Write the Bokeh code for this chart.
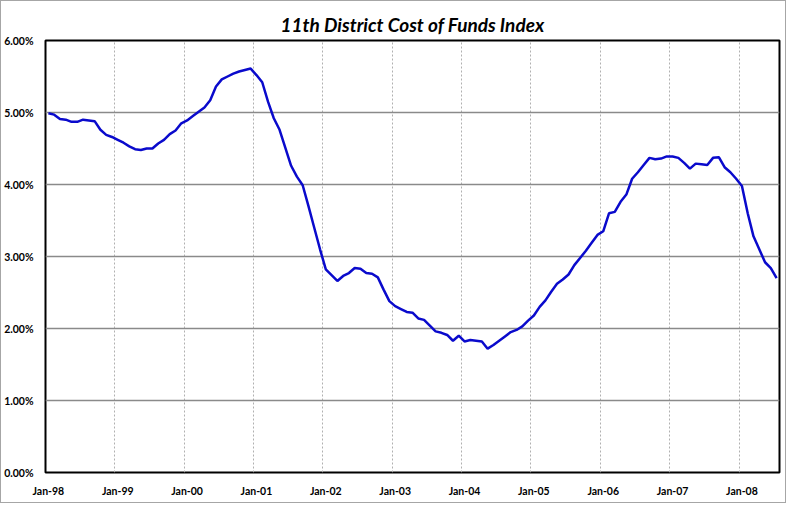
import numpy as np
from bokeh.plotting import figure
from bokeh.models import Range1d, FixedTicker, PrintfTickFormatter, ColumnDataSource
from bokeh.embed import file_html
from bokeh.resources import INLINE

# 11th District Cost of Funds Index, monthly, percent (Jan-98 .. Jul-08)
cofi_1998 = [4.99, 4.97, 4.91, 4.90, 4.87, 4.87, 4.90, 4.89, 4.88, 4.76, 4.69, 4.66]
cofi_1999 = [4.62, 4.58, 4.53, 4.49, 4.48, 4.50, 4.50, 4.57, 4.62, 4.70, 4.75, 4.85]
cofi_2000 = [4.89, 4.95, 5.01, 5.07, 5.17, 5.36, 5.46, 5.50, 5.54, 5.57, 5.59, 5.61]
cofi_2001 = [5.52, 5.42, 5.15, 4.92, 4.76, 4.51, 4.26, 4.11, 3.99, 3.70, 3.40, 3.10]
cofi_2002 = [2.82, 2.74, 2.66, 2.73, 2.77, 2.84, 2.83, 2.77, 2.76, 2.71, 2.54, 2.38]
cofi_2003 = [2.31, 2.27, 2.23, 2.22, 2.14, 2.12, 2.04, 1.96, 1.94, 1.91, 1.83, 1.90]
cofi_2004 = [1.82, 1.84, 1.83, 1.82, 1.72, 1.77, 1.83, 1.89, 1.95, 1.98, 2.03, 2.11]
cofi_2005 = [2.18, 2.30, 2.39, 2.51, 2.62, 2.68, 2.75, 2.88, 2.98, 3.08, 3.19, 3.30]
cofi_2006 = [3.35, 3.60, 3.62, 3.76, 3.86, 4.08, 4.17, 4.27, 4.37, 4.35, 4.36, 4.39]
cofi_2007 = [4.39, 4.37, 4.30, 4.22, 4.29, 4.28, 4.27, 4.37, 4.38, 4.24, 4.17, 4.08]
cofi_2008 = [3.98, 3.60, 3.28, 3.10, 2.92, 2.84, 2.70]

x_labels = ["Jan-98", "Jan-99", "Jan-00", "Jan-01", "Jan-02", "Jan-03",
            "Jan-04", "Jan-05", "Jan-06", "Jan-07", "Jan-08"]
y_ticks = [0, 1, 2, 3, 4, 5, 6]

values = (cofi_1998 + cofi_1999 + cofi_2000 + cofi_2001 + cofi_2002 + cofi_2003 +
          cofi_2004 + cofi_2005 + cofi_2006 + cofi_2007 + cofi_2008)
n = len(values)
# each month occupies one unit; points sit in the middle of their month
month_pos = np.arange(n) + 0.5
src = ColumnDataSource(data=dict(x=month_pos, y=values))

p = figure(width=784, height=501, frame_width=734, frame_height=432,
           output_backend="svg", toolbar_location=None,
           x_range=Range1d(0, n), y_range=Range1d(0, 6),
           min_border_left=44, min_border_right=6, min_border_top=39, min_border_bottom=30)

p.title.text = "11th District Cost of Funds Index"
p.title.text_font = "Lato"
p.title.text_font_style = "bold italic"
p.title.text_font_size = "19px"
p.title.align = "center"
p.title.offset = -20
p.title.text_color = "black"

p.line("x", "y", source=src, line_color="#0a0acc", line_width=2.5)

year_starts = [12 * k for k in range(len(x_labels))]
label_pos = [s + 0.5 for s in year_starts]
p.xaxis.ticker = FixedTicker(ticks=label_pos)
p.xaxis.major_label_overrides = {pos: lab for pos, lab in zip(label_pos, x_labels)}
p.xgrid.ticker = FixedTicker(ticks=year_starts)
p.xgrid.grid_line_color = "#b0b0b0"
p.xgrid.grid_line_dash = "2 2"
p.xgrid.grid_line_width = 1

p.yaxis.ticker = FixedTicker(ticks=y_ticks)
p.yaxis.formatter = PrintfTickFormatter(format="%.2f%%")
p.ygrid.ticker = FixedTicker(ticks=y_ticks)
p.ygrid.grid_line_color = "#8a8a8a"
p.ygrid.grid_line_width = 1.5

for ax in (p.xaxis, p.yaxis):
    ax.axis_line_color = None
    ax.major_tick_line_color = None
    ax.minor_tick_line_color = None
    ax.major_tick_out = 0
    ax.major_tick_in = 0
    ax.major_label_text_font = "Lato"
    ax.major_label_text_font_style = "bold"
    ax.major_label_text_font_size = "10.5px"
    ax.major_label_text_color = "black"
p.xaxis.major_label_standoff = 12
p.yaxis.major_label_standoff = 12

p.outline_line_color = "black"
p.outline_line_width = 2
p.background_fill_color = "white"
p.border_fill_color = "white"
p.styles = {"border": "1px solid #a6a6a6"}

open("out.html", "w").write(file_html(p, INLINE))
